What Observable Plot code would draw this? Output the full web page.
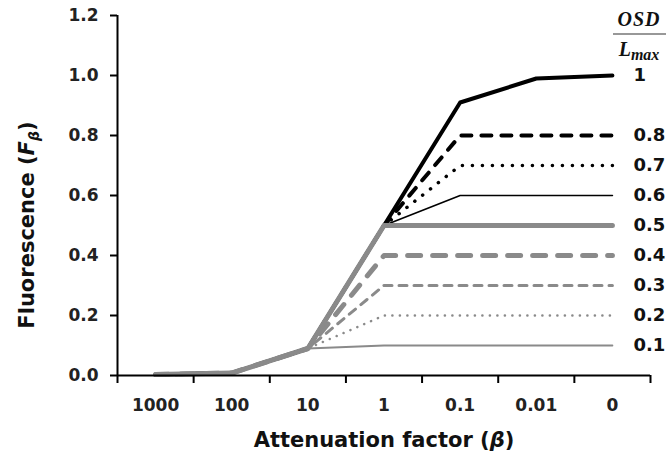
<!DOCTYPE html>
<html>
<head>
<meta charset="utf-8">
<script src="https://cdn.jsdelivr.net/npm/d3@7"></script>
<script src="https://cdn.jsdelivr.net/npm/@observablehq/plot@0.6"></script>
<style>
  html, body { margin: 0; padding: 0; background: #fff; }
  #chart svg { display: block; }
</style>
</head>
<body>
<div id="chart"></div>
<script>
// ---- data ----
const categories = ["1000", "100", "10", "1", "0.1", "0.01", "0"];
const ratios = [1, 0.8, 0.7, 0.6, 0.5, 0.4, 0.3, 0.2, 0.1];
const values = {
  1:   [0.003, 0.008, 0.09, 0.5, 0.91, 0.99, 1.0],
  0.8: [0.003, 0.008, 0.09, 0.5, 0.8, 0.8, 0.8],
  0.7: [0.003, 0.008, 0.09, 0.5, 0.7, 0.7, 0.7],
  0.6: [0.003, 0.008, 0.09, 0.5, 0.6, 0.6, 0.6],
  0.5: [0.003, 0.008, 0.09, 0.5, 0.5, 0.5, 0.5],
  0.4: [0.003, 0.008, 0.09, 0.4, 0.4, 0.4, 0.4],
  0.3: [0.003, 0.008, 0.09, 0.3, 0.3, 0.3, 0.3],
  0.2: [0.003, 0.008, 0.09, 0.2, 0.2, 0.2, 0.2],
  0.1: [0.003, 0.008, 0.09, 0.1, 0.1, 0.1, 0.1]
};
const yTicks = [0, 0.2, 0.4, 0.6, 0.8, 1.0, 1.2];

// ---- styles (kept separate from data) ----
const black = "#000000", gray = "#8a8a8a";
const styles = {
  1:   {stroke: black, strokeWidth: 4},
  0.8: {stroke: black, strokeWidth: 4, strokeDasharray: "10 10", strokeLinecap: "round"},
  0.7: {stroke: black, strokeWidth: 3.5, strokeDasharray: "0.1 9.9", strokeLinecap: "round"},
  0.6: {stroke: black, strokeWidth: 1.6},
  0.5: {stroke: gray, strokeWidth: 5},
  0.4: {stroke: gray, strokeWidth: 5, strokeDasharray: "13 12", strokeLinecap: "round"},
  0.3: {stroke: gray, strokeWidth: 3, strokeDasharray: "8 7", strokeLinecap: "round"},
  0.2: {stroke: gray, strokeWidth: 2.5, strokeDasharray: "0.1 7.4", strokeLinecap: "round"},
  0.1: {stroke: gray, strokeWidth: 1.8}
};
const drawOrder = [1, 0.8, 0.7, 0.6, 0.1, 0.2, 0.3, 0.4, 0.5];

const rows = ratios.flatMap(r => values[r].map((v, i) => ({ratio: r, i, v})));
const ends = ratios.map(r => ({ratio: r, i: categories.length - 1, v: values[r][categories.length - 1]}));

const font = "DejaVu Sans";
const boundaries = d3.range(-0.5, categories.length, 1);

const plot = Plot.plot({
  width: 668,
  height: 459,
  marginLeft: 117,
  marginRight: 18,
  marginTop: 15,
  marginBottom: 84,
  style: {fontFamily: font, background: "#fff"},
  x: {type: "linear", domain: [-0.5, categories.length - 0.5], axis: null},
  y: {domain: [0, 1.2], axis: null},
  marks: [
    ...drawOrder.map(r => Plot.line(rows.filter(d => d.ratio === r), {
      x: "i", y: "v", strokeLinejoin: "round", ...styles[r]
    })),
    Plot.ruleX([-0.5], {y1: 0, y2: 1.2, stroke: "#000", strokeWidth: 2}),
    Plot.ruleY([0], {x1: -0.5, x2: categories.length - 0.5, stroke: "#000", strokeWidth: 2}),
    Plot.axisY(yTicks, {
      label: null, tickSize: 7, tickPadding: 12, tickFormat: d3.format(".1f"),
      fontSize: 17, fontWeight: "bold", fill: "#222", strokeWidth: 2, stroke: "#000"
    }),
    Plot.axisX(boundaries, {label: null, tickSize: 8, tickFormat: () => "", strokeWidth: 2, stroke: "#000"}),
    Plot.axisX(d3.range(categories.length), {
      label: null, tickSize: 0, tickPadding: 23, tickFormat: i => categories[i],
      fontSize: 17, fontWeight: "bold", fill: "#222"
    }),
    Plot.text(ends, {
      x: "i", y: "v", text: d => String(d.ratio), dx: 21, textAnchor: "start",
      fontSize: 18, fontWeight: "bold", fill: "#111"
    })
  ]
});

document.getElementById("chart").appendChild(plot);

// ---- rich-text labels ----
const svg = d3.select(plot);
// y label
const yl = svg.append("text")
  .attr("transform", "translate(34,225) rotate(-90)")
  .attr("text-anchor", "middle")
  .attr("font-family", font).attr("font-weight", "bold").attr("font-size", 21).attr("fill", "#111");
yl.append("tspan").text("Fluorescence (");
yl.append("tspan").attr("font-style", "italic").text("F");
yl.append("tspan").attr("font-style", "italic").attr("font-size", 14).attr("dy", 5).text("β");
yl.append("tspan").attr("dy", -5).text(")");

// x label
const xl = svg.append("text")
  .attr("x", 384).attr("y", 447)
  .attr("text-anchor", "middle")
  .attr("font-family", font).attr("font-weight", "bold").attr("font-size", 21).attr("fill", "#111");
xl.append("tspan").text("Attenuation factor (");
xl.append("tspan").attr("font-style", "italic").text("β");
xl.append("tspan").text(")");

// fraction legend header
const serif = "Liberation Serif";
svg.append("text").attr("x", 639).attr("y", 26).attr("text-anchor", "middle")
  .attr("font-family", serif).attr("font-weight", "bold").attr("font-style", "italic")
  .attr("font-size", 20).attr("letter-spacing", 1).attr("fill", "#111").text("OSD");
svg.append("line").attr("x1", 613).attr("x2", 666).attr("y1", 34).attr("y2", 34)
  .attr("stroke", "#333").attr("stroke-width", 1.2);
const lm = svg.append("text").attr("x", 639).attr("y", 56).attr("text-anchor", "middle")
  .attr("font-family", serif).attr("font-weight", "bold").attr("font-style", "italic")
  .attr("font-size", 20).attr("fill", "#111");
lm.append("tspan").text("L");
lm.append("tspan").attr("font-size", 16).attr("dy", 4).text("max");
</script>
</body>
</html>
